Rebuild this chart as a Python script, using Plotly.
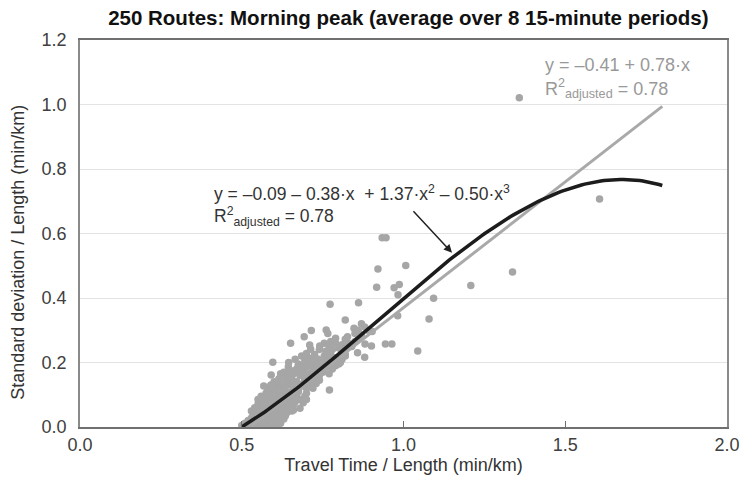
import plotly.graph_objects as go

# Route observations: travel time per km vs. standard deviation per km
route_tt = [
    # isolated routes
    1.358, 1.606, 1.337, 1.208, 0.934, 0.946, 0.921, 1.007, 0.917, 0.971,
    0.987, 0.983, 1.093, 0.773, 0.861, 1.079, 0.982, 0.820, 0.693, 0.715,
    0.761, 0.766, 0.847, 0.651, 0.944, 0.964, 1.044, 0.596, 0.880, 0.568,
    0.591, 0.771, 0.710, 0.713, 0.741, 0.827, 0.862, 0.903, 0.881, 0.901,
    0.858, 0.680, 0.660, 0.634, 0.644, 0.718, 0.761, 0.766,
    # main cluster
    0.50, 0.51, 0.52, 0.52, 0.53, 0.53, 0.54, 0.54, 0.55, 0.55, 0.56, 0.56,
    0.57, 0.57, 0.58, 0.58, 0.59, 0.60, 0.61, 0.62, 0.535, 0.545, 0.565, 0.585,
    0.53, 0.54, 0.55, 0.56, 0.57, 0.58, 0.59, 0.60, 0.61, 0.62, 0.63, 0.64,
    0.55, 0.57, 0.59, 0.61, 0.60, 0.625, 0.645, 0.565,
    0.55, 0.56, 0.57, 0.58, 0.59, 0.60, 0.61, 0.62, 0.63, 0.64, 0.65, 0.66,
    0.67, 0.68, 0.575, 0.605, 0.635, 0.655, 0.59, 0.615,
    0.58, 0.59, 0.60, 0.61, 0.62, 0.63, 0.64, 0.65, 0.66, 0.67, 0.68, 0.69,
    0.70, 0.71, 0.615, 0.635, 0.655, 0.675, 0.695, 0.72,
    0.62, 0.63, 0.64, 0.65, 0.66, 0.67, 0.68, 0.69, 0.70, 0.71, 0.72, 0.73,
    0.74, 0.75, 0.675, 0.715, 0.735, 0.695,
    0.645, 0.665, 0.675, 0.685, 0.695, 0.705, 0.715, 0.725, 0.735, 0.745, 0.755, 0.765,
    0.775, 0.79, 0.80, 0.81, 0.82, 0.785, 0.70, 0.72,
    0.74, 0.76, 0.77, 0.78, 0.79, 0.80, 0.81, 0.82, 0.83, 0.84, 0.85, 0.79,
    0.82, 0.755, 0.775,
    0.85, 0.86, 0.87, 0.88, 0.89, 0.87,
    0.505, 0.515, 0.525, 0.545, 0.555, 0.575, 0.595, 0.605, 0.615, 0.63,
    0.545, 0.575, 0.595, 0.615, 0.635, 0.655, 0.585, 0.605, 0.625, 0.645,
    0.565, 0.595, 0.625, 0.645, 0.665, 0.585, 0.615, 0.635, 0.655, 0.675,
    0.595, 0.625, 0.645, 0.665, 0.685, 0.705, 0.725, 0.735, 0.745, 0.695,
    0.70, 0.72, 0.73, 0.74, 0.715, 0.695, 0.74, 0.75, 0.76, 0.78, 0.77,
    0.79, 0.80, 0.79, 0.81, 0.82, 0.805, 0.66, 0.69, 0.70,
]
route_sd = [
    1.021, 0.707, 0.481, 0.439, 0.587, 0.587, 0.490, 0.501, 0.433, 0.432,
    0.442, 0.410, 0.399, 0.381, 0.385, 0.335, 0.345, 0.332, 0.280, 0.299,
    0.301, 0.290, 0.306, 0.260, 0.257, 0.257, 0.236, 0.201, 0.216, 0.127,
    0.161, 0.115, 0.254, 0.241, 0.251, 0.280, 0.278, 0.296, 0.257, 0.251,
    0.230, 0.058, 0.053, 0.161, 0.187, 0.213, 0.213, 0.233,
    0.005, 0.012, 0.004, 0.020, 0.010, 0.028, 0.006, 0.018, 0.012, 0.030, 0.004, 0.022,
    0.008, 0.015, 0.010, 0.026, 0.005, 0.014, 0.020, 0.012, 0.038, 0.045, 0.035, 0.040,
    0.050, 0.060, 0.055, 0.048, 0.062, 0.052, 0.045, 0.060, 0.050, 0.040, 0.055, 0.045,
    0.070, 0.040, 0.068, 0.035, 0.032, 0.065, 0.060, 0.075,
    0.085, 0.095, 0.080, 0.100, 0.085, 0.095, 0.080, 0.100, 0.085, 0.095, 0.080, 0.090,
    0.100, 0.085, 0.105, 0.110, 0.072, 0.105, 0.072, 0.090,
    0.120, 0.130, 0.140, 0.125, 0.135, 0.120, 0.145, 0.130, 0.120, 0.140, 0.125, 0.135,
    0.120, 0.130, 0.150, 0.112, 0.148, 0.115, 0.148, 0.145,
    0.165, 0.170, 0.155, 0.175, 0.165, 0.180, 0.160, 0.170, 0.185, 0.165, 0.175, 0.160,
    0.180, 0.170, 0.190, 0.152, 0.190, 0.150,
    0.200, 0.210, 0.195, 0.220, 0.205, 0.215, 0.200, 0.225, 0.210, 0.200, 0.220, 0.205,
    0.225, 0.215, 0.200, 0.210, 0.225, 0.195, 0.228, 0.192,
    0.240, 0.235, 0.250, 0.240, 0.260, 0.245, 0.255, 0.240, 0.260, 0.250, 0.265, 0.275,
    0.272, 0.260, 0.265,
    0.290, 0.300, 0.285, 0.310, 0.300, 0.320,
    0.000, 0.003, 0.012, 0.000, 0.020, 0.000, 0.020, 0.003, 0.010, 0.025,
    0.033, 0.055, 0.058, 0.062, 0.035, 0.050, 0.078, 0.078, 0.078, 0.082,
    0.092, 0.098, 0.093, 0.108, 0.078, 0.115, 0.122, 0.128, 0.135, 0.110,
    0.128, 0.140, 0.155, 0.175, 0.175, 0.160, 0.195, 0.210, 0.195, 0.195,
    0.105, 0.120, 0.135, 0.145, 0.140, 0.095, 0.160, 0.175, 0.185, 0.180, 0.165,
    0.190, 0.195, 0.215, 0.235, 0.220, 0.200, 0.070, 0.075, 0.085,
]

# Regression coefficients (intercept first)
linear_coef = [-0.41, 0.78]
cubic_coef = [-0.09, -0.38, 1.37, -0.50]
linear_span = [0.53, 1.80]
cubic_span = [0.50, 1.80]

x_ticks = [0.0, 0.5, 1.0, 1.5, 2.0]
y_ticks = [0.0, 0.2, 0.4, 0.6, 0.8, 1.0, 1.2]


def poly(coefs, x):
    return sum(c * x ** i for i, c in enumerate(coefs))


n_pts = 131
cx = [cubic_span[0] + (cubic_span[1] - cubic_span[0]) * i / (n_pts - 1) for i in range(n_pts)]
cy = [poly(cubic_coef, v) for v in cx]
lx = list(linear_span)
ly = [poly(linear_coef, v) for v in lx]

FONT = "Liberation Sans, Arial, sans-serif"
POINT_GREY = "#a6a6a6"

fig = go.Figure()
fig.add_trace(go.Scatter(
    x=route_tt, y=route_sd, mode="markers",
    marker=dict(color=POINT_GREY, size=7.5, line=dict(width=0)),
    hoverinfo="x+y", showlegend=False,
))
fig.add_trace(go.Scatter(
    x=lx, y=ly, mode="lines",
    line=dict(color="#a9a9a9", width=3), showlegend=False,
))
fig.add_trace(go.Scatter(
    x=cx, y=cy, mode="lines",
    line=dict(color="#1c1c1c", width=3.5), showlegend=False,
))

# Linear fit equation
fig.add_annotation(x=1.431, y=1.122, xanchor="left", yanchor="middle", showarrow=False,
                   text="y = –0.41 + 0.78·x",
                   font=dict(family=FONT, size=18, color="#999999"))
fig.add_annotation(x=1.431, y=1.05, xanchor="left", yanchor="middle", showarrow=False,
                   text="R<sup>2</sup><sub>adjusted</sub> = 0.78",
                   font=dict(family=FONT, size=18, color="#999999"))

# Cubic fit equation
fig.add_annotation(x=0.409, y=0.725, xanchor="left", yanchor="middle", showarrow=False,
                   text="y = –0.09 – 0.38·x  + 1.37·x<sup>2</sup> – 0.50·x<sup>3</sup>",
                   font=dict(family=FONT, size=17.5, color="#333333"))
fig.add_annotation(x=0.409, y=0.652, xanchor="left", yanchor="middle", showarrow=False,
                   text="R<sup>2</sup><sub>adjusted</sub> = 0.78",
                   font=dict(family=FONT, size=17.5, color="#333333"))
fig.add_annotation(x=1.15, y=0.54, ax=-40, ay=-43, axref="pixel", ayref="pixel",
                   showarrow=True, arrowhead=2, arrowsize=1.1, arrowwidth=1.5,
                   arrowcolor="#222222", text="")

# Vertical axis title, sitting a little below the middle of the axis
fig.add_annotation(xref="paper", yref="paper", x=0, y=0.45, xshift=-62,
                   xanchor="center", yanchor="middle", textangle=-90, showarrow=False,
                   text="Standard deviation / Length (min/km)",
                   font=dict(family=FONT, size=18, color="#333333"))

fig.update_layout(
    width=752, height=485,
    margin=dict(l=80, r=12, t=40, b=58),
    paper_bgcolor="white", plot_bgcolor="white",
    font=dict(family=FONT, size=18, color="#404040"),
    title=dict(text="<b>250 Routes: Morning peak (average over 8 15-minute periods)</b>",
               x=0.543, xanchor="center", y=0.963, yanchor="middle",
               font=dict(family=FONT, size=20.5, color="#111111")),
    xaxis=dict(
        range=[0, 2], tickvals=x_ticks, ticktext=[f"{v:.1f}" for v in x_ticks],
        showgrid=False, zeroline=False,
        showline=True, linecolor="#707070", linewidth=2, mirror=True,
        ticks="inside", ticklen=6, tickcolor="#707070", tickwidth=1,
        title=dict(text="Travel Time / Length (min/km)", standoff=4,
                   font=dict(family=FONT, size=18, color="#333333")),
        tickfont=dict(family=FONT, size=18, color="#404040"),
    ),
    yaxis=dict(
        range=[0, 1.2], tickvals=y_ticks, ticktext=[f"{v:.1f}" for v in y_ticks],
        showgrid=True, gridcolor="#e3e3e3", gridwidth=1, zeroline=False,
        showline=True, linecolor="#8a8a8a", linewidth=1.5, mirror=True,
        ticks="", ticklabelstandoff=8,
        tickfont=dict(family=FONT, size=18, color="#404040"),
    ),
)

fig.write_html("out.html")
